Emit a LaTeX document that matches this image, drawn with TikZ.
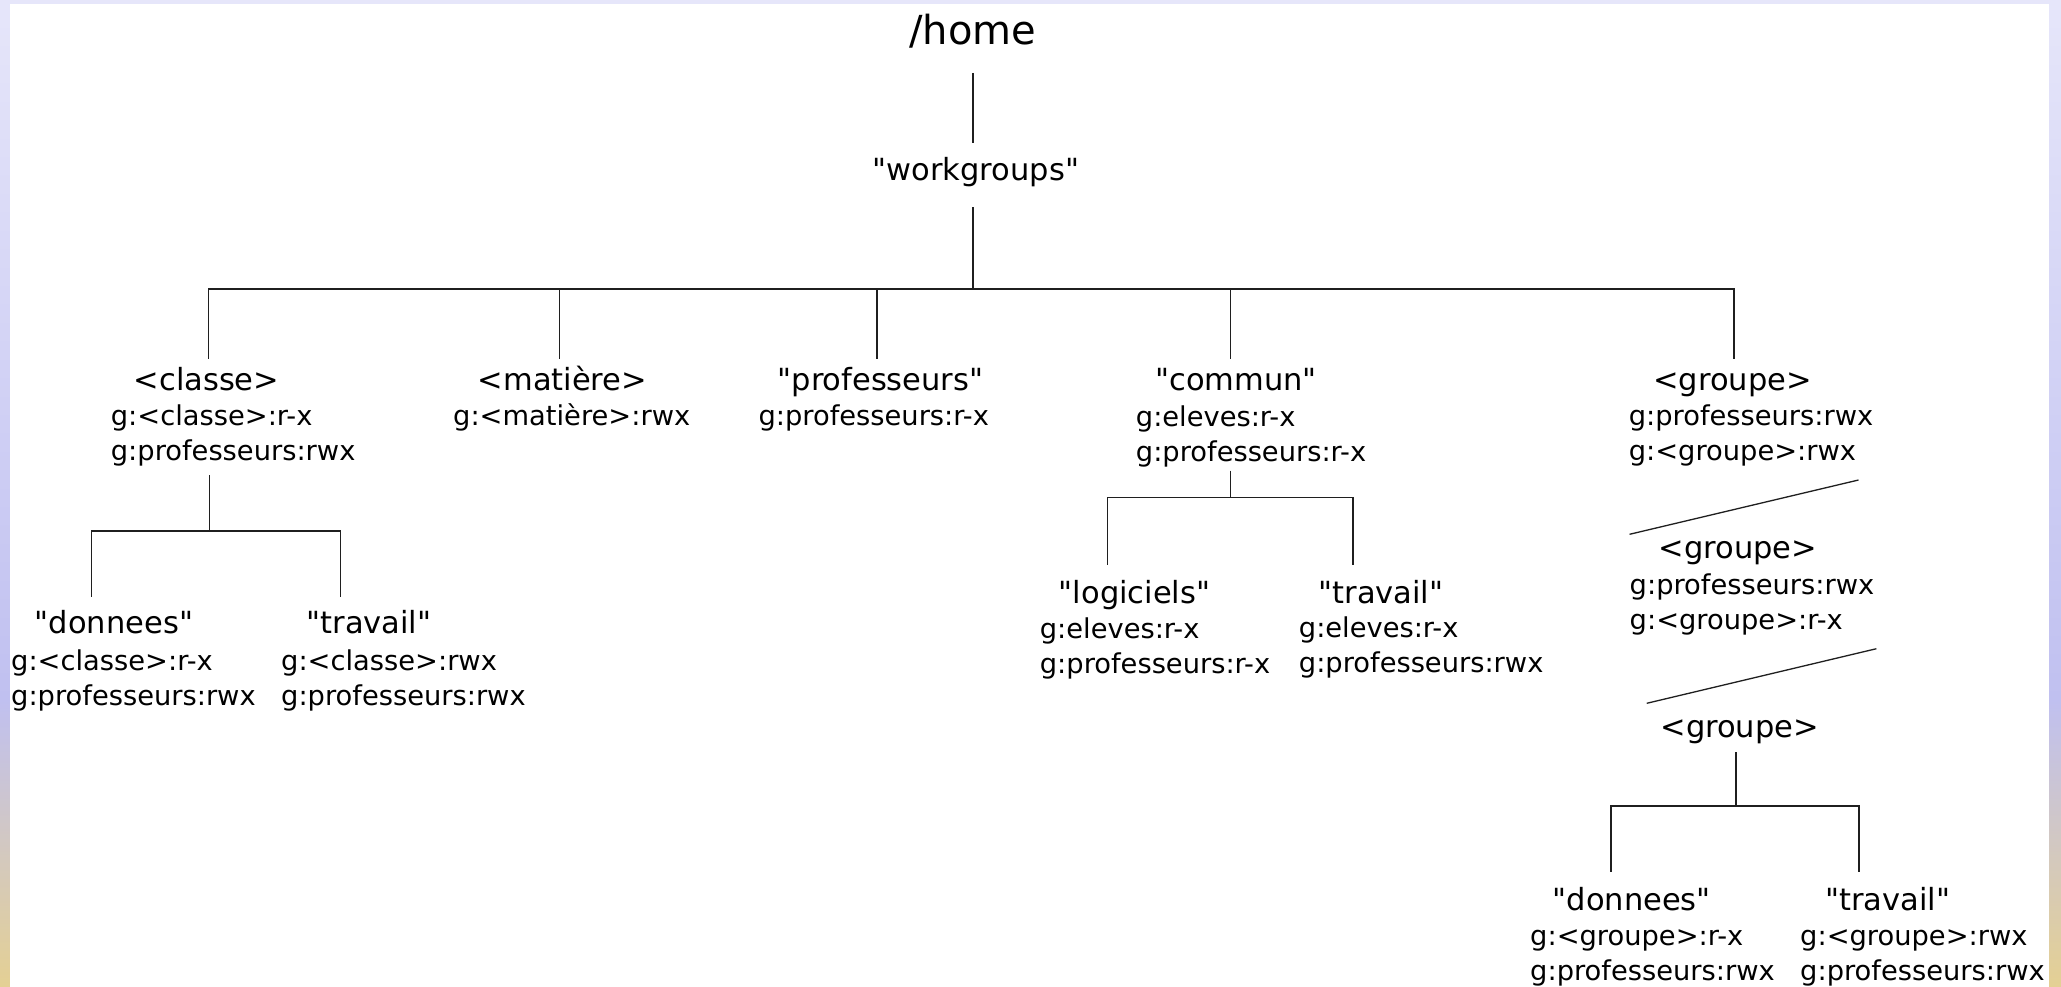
\documentclass[tikz,border=0pt]{standalone}
\usepackage{fontspec}
\newfontfamily\dv{DejaVu Sans}
\definecolor{bglav}{HTML}{E6E6FA}
\definecolor{bgperi}{HTML}{C0C0F0}
\definecolor{bggold}{HTML}{E4D094}
\newcommand\twol[2]{\vtop{\hbox{#1}\hbox{#2}}}
\begin{document}
\begin{tikzpicture}[x=1pt,y=-1pt,
  tree/.style={line width=1.6pt, draw=black!88},
  slash/.style={line width=1.3pt, draw=black!88},
  homenode/.style={font=\dv\fontsize{40}{48}\selectfont, anchor=base, inner sep=0pt, text height=30pt, text depth=10pt},
  ttl/.style={font=\dv\fontsize{30.5}{36}\selectfont, anchor=base, inner sep=0pt, text height=23pt, text depth=7pt},
  perm/.style={font=\dv\fontsize{27.3}{35}\selectfont, anchor=base west, inner sep=0pt}]
\useasboundingbox (0,0) rectangle (2061,986);
% background frame
\shade[top color=bglav, bottom color=bgperi] (0,0) rectangle (2061,700);
\shade[top color=bgperi, bottom color=bggold] (0,699.5) rectangle (2061,986);
\fill[white] (10,4) rectangle (2049,990);

% nodes
\node[homenode] (home) at (972.8,44.3) {/home};
\node[ttl] (wg) at (975.9,180) {"workgroups"};

\node[ttl] (classe) at (206.5,390) {<classe>};
\node[perm] (classeP) at (110.7,425) {\twol{g:<classe>:r-x}{g:professeurs:rwx}};
\node[ttl] (matiere) at (562.5,390) {<matière>};
\node[perm] (matiereP) at (453,425) {g:<matière>:rwx};
\node[ttl] (prof) at (880.5,390) {"professeurs"};
\node[perm] (profP) at (758.4,425) {g:professeurs:r-x};
\node[ttl] (commun) at (1236,390) {"commun"};
\node[perm] (communP) at (1135.7,426.5) {\twol{g:eleves:r-x}{g:professeurs:r-x}};
\node[ttl] (groupeA) at (1732.6,390) {<groupe>};
\node[perm] (groupeAP) at (1628.6,425) {\twol{g:professeurs:rwx}{g:<groupe>:rwx}};

\node[ttl] (donnees) at (114,633) {"donnees"};
\node[perm] (donneesP) at (11,670) {\twol{g:<classe>:r-x}{g:professeurs:rwx}};
\node[ttl] (travail) at (369,633) {"travail"};
\node[perm] (travailP) at (281,670) {\twol{g:<classe>:rwx}{g:professeurs:rwx}};

\node[ttl] (logiciels) at (1134.6,603) {"logiciels"};
\node[perm] (logicielsP) at (1039.7,638) {\twol{g:eleves:r-x}{g:professeurs:r-x}};
\node[ttl] (travailB) at (1381,603) {"travail"};
\node[perm] (travailBP) at (1298.7,637) {\twol{g:eleves:r-x}{g:professeurs:rwx}};

\node[ttl] (groupeB) at (1737.8,558.3) {<groupe>};
\node[perm] (groupeBP) at (1629.5,594) {\twol{g:professeurs:rwx}{g:<groupe>:r-x}};
\node[ttl] (groupeC) at (1739.7,737.3) {<groupe>};

\node[ttl] (donneesC) at (1631.7,910) {"donnees"};
\node[perm] (donneesCP) at (1530,945) {\twol{g:<groupe>:r-x}{g:professeurs:rwx}};
\node[ttl] (travailC) at (1887.6,910) {"travail"};
\node[perm] (travailCP) at (1800,945) {\twol{g:<groupe>:rwx}{g:professeurs:rwx}};

% junctions
\coordinate (j0) at (972.8,289);
\coordinate (jcl) at (209.5,530.7);
\coordinate (jco) at (1230.6,497.3);
\coordinate (jgr) at (1735.7,806);
\coordinate (da1) at (1629.5,534.3);
\coordinate (db1) at (1858.5,480);
\coordinate (da2) at (1646.7,703.3);
\coordinate (db2) at (1876.4,648.7);

% connectors
\draw[tree, shorten <=18.4pt, shorten >=14.3pt] (home.south) -- (home.south |- wg.north);
\draw[tree, shorten <=20pt] (j0 |- wg.south) -- (j0);
\draw[tree, shorten >=8pt] (j0) -| ([xshift=2pt]classe.north);
\draw[tree, shorten >=8pt] (j0) -| ([xshift=-3.1pt]matiere.north);
\draw[tree, shorten >=8pt] (j0) -| ([xshift=-3.7pt]prof.north);
\draw[tree, shorten >=8pt] (j0) -| ([xshift=-5.6pt]commun.north);
\draw[tree, shorten >=8pt] (j0) -| ([xshift=1.4pt]groupeA.north);

\draw[tree, shorten <=9.3pt] (jcl |- classeP.south) -- (jcl);
\draw[tree, shorten >=13pt] (jcl) -| ([xshift=-22.5pt]donnees.north);
\draw[tree, shorten >=13pt] (jcl) -| ([xshift=-28.4pt]travail.north);

\draw[tree, shorten <=3.3pt] (jco |- communP.south) -- (jco);
\draw[tree, shorten >=15pt] (jco) -| ([xshift=-27pt]logiciels.north);
\draw[tree, shorten >=15pt] (jco) -| ([xshift=-28pt]travailB.north);

\draw[slash] (da1) -- (db1);
\draw[slash] (da2) -- (db2);

\draw[tree, shorten <=7.7pt] (jgr |- groupeC.south) -- (jgr);
\draw[tree, shorten >=15pt] (jgr) -| ([xshift=-20.7pt]donneesC.north);
\draw[tree, shorten >=15pt] (jgr) -| ([xshift=-28.4pt]travailC.north);
\end{tikzpicture}
\end{document}
